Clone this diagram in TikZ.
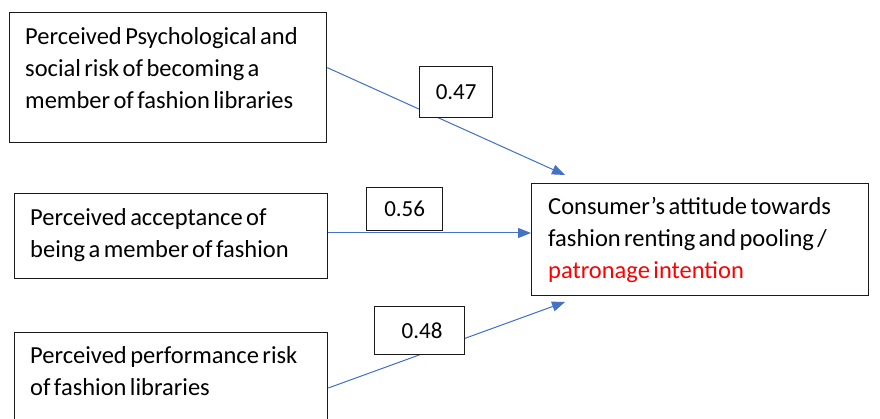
\documentclass[tikz,border=0pt]{standalone}
\usepackage{fontspec}
\setmainfont{Carlito}
\usetikzlibrary{arrows.meta}
\definecolor{lineblue}{HTML}{4472C4}
\definecolor{boxline}{HTML}{1A1A1A}
\definecolor{txtred}{HTML}{FF0000}
\newcommand{\boxfont}{\fontsize{24.5}{32}\selectfont\spaceskip=0.14em plus 0.02em\relax}
\tikzset{
  varbox/.style={draw=boxline, line width=1.3pt, fill=white, inner sep=0pt},
  numbox/.style={draw=boxline, line width=1.3pt, fill=white, inner sep=0pt, font=\fontsize{23}{26}\selectfont},
  boxtext/.style={anchor=north west, align=left, inner sep=0pt, font=\boxfont, text=black},
  link/.style={draw=lineblue, line width=1pt, -{Triangle[length=13pt,width=10pt]}, fill=lineblue},
}
\begin{document}
\begin{tikzpicture}[x=1pt,y=-1pt]
\useasboundingbox[fill=white] (0,0) rectangle (880,419);
% variable boxes
\node[varbox, minimum width=317pt, minimum height=130pt, anchor=north west] (a) at (9,12) {};
\node[varbox, minimum width=313pt, minimum height=85pt, anchor=north west] (b) at (14,193) {};
\node[varbox, minimum width=313pt, minimum height=100pt, anchor=north west] (c) at (14,332) {};
\node[varbox, minimum width=337pt, minimum height=112pt, anchor=north west] (t) at (531,183) {};
% texts
\node[boxtext] (at) at (25,27) {Perceived Psychological and\\social risk of becoming a\\member of fashion libraries};
\node[boxtext] (bt) at (30,208) {Perceived acceptance of\\being a member of fashion};
\node[boxtext] (ct) at (30,346) {Perceived performance risk\\of fashion libraries};
\node[boxtext] (tt) at (548,197) {Consumer’s attitude towards\\fashion renting and pooling /\\\textcolor{txtred}{patronage intention}};
% connectors
\coordinate (ta) at (565,175);
\coordinate (tc) at (565,302);
\coordinate (mb) at (0,233);
\coordinate (mc) at (0,388);
\draw[link] ([yshift=10pt]a.east) -- (ta);
\draw[link] (b.east |- mb) -- (t.west |- mb);
\draw[link] (c.east |- mc) -- (tc);
% coefficient boxes
\node[numbox, minimum width=73pt, minimum height=51pt, anchor=north west] (n1) at (419,66) {0.47};
\node[numbox, minimum width=76pt, minimum height=43pt, anchor=north west] (n2) at (366,187) {0.56};
\node[numbox, minimum width=90pt, minimum height=48pt, anchor=north west, text width=72pt, align=left, inner xsep=0pt] (n3) at (374,306) {\hspace*{18pt}0.48};
\end{tikzpicture}
\end{document}
